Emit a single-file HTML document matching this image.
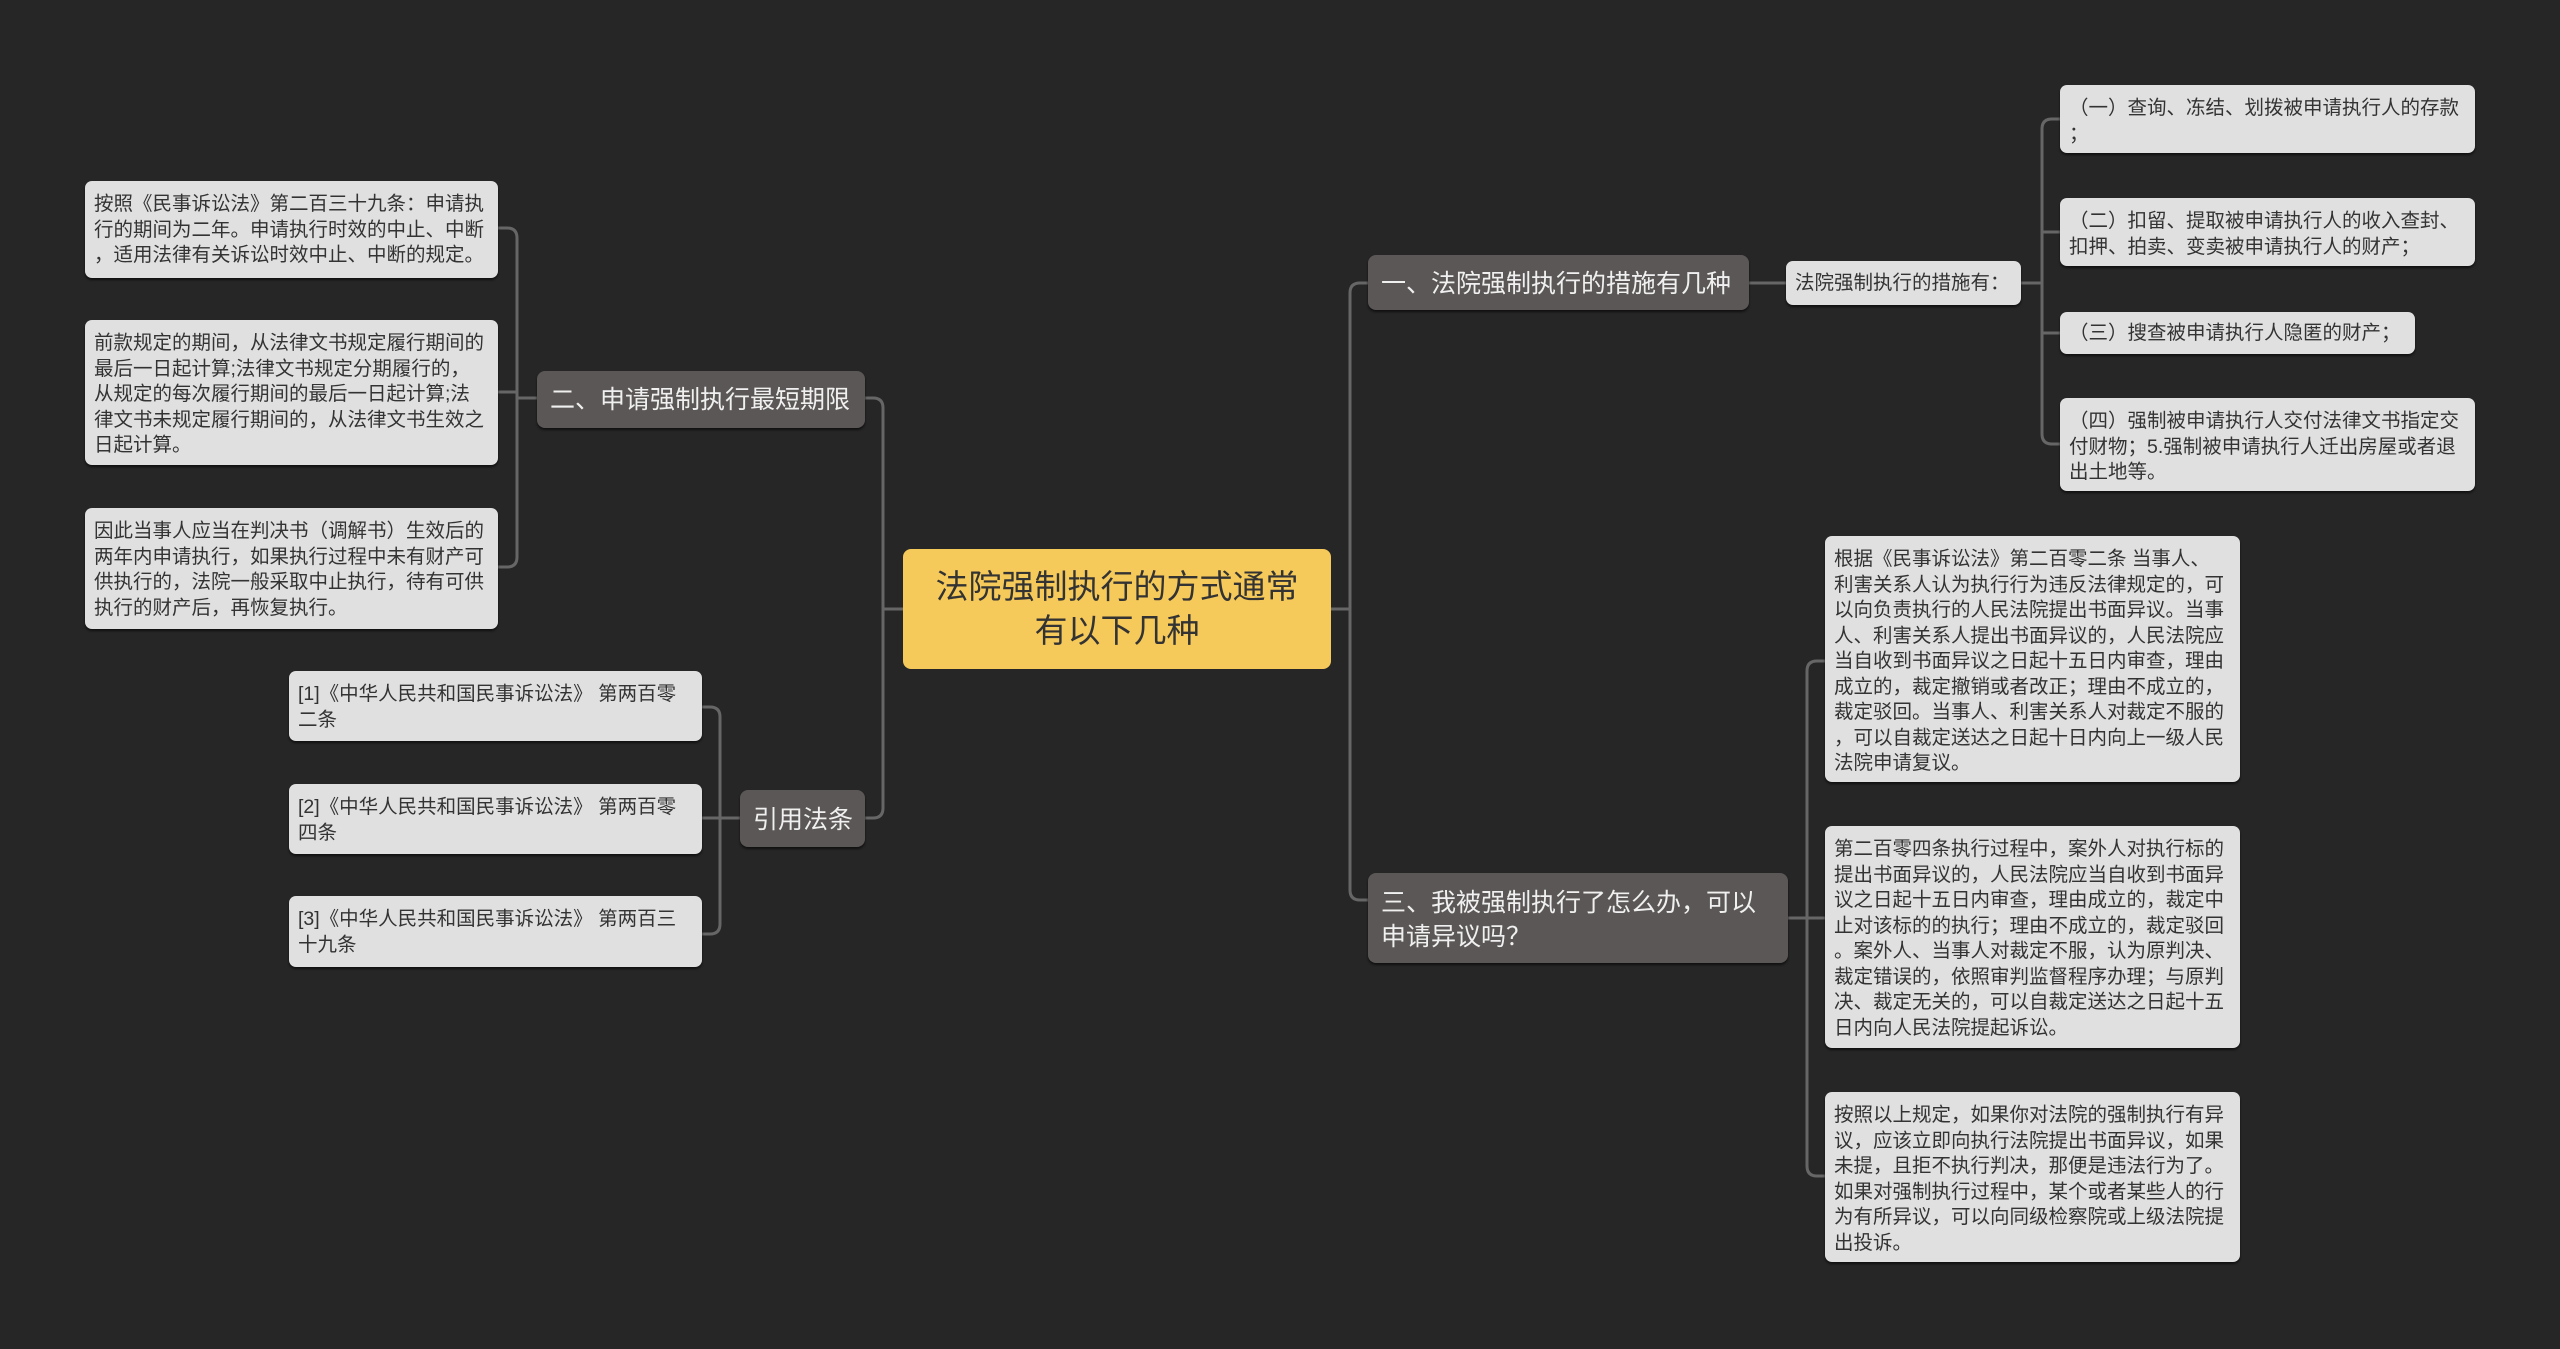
<!DOCTYPE html>
<html><head><meta charset="utf-8"><style>
body{margin:0;width:2560px;height:1349px;background:#262626;position:relative;overflow:hidden;font-family:"Liberation Sans","Noto Sans CJK SC",sans-serif}
.b{position:absolute;box-sizing:border-box;white-space:nowrap}
.l{background:#e0e0e0;color:#333;border-radius:7px;font-size:19.5px;line-height:25.5px;padding:11px 9px 7px;box-shadow:0 2px 2px #111}
.d{background:#5b5756;color:#f0f0f0;border-radius:8px;font-size:25px;line-height:34px;padding:10px 13px;box-shadow:0 2px 2px #111}
.c{background:#f5c95a;color:#333;border-radius:8px;font-size:33px;line-height:44px;text-align:center;padding:16px 0}
svg{position:absolute;left:0;top:0}
</style></head><body>
<svg width="2560" height="1349" fill="none" stroke="#666" stroke-width="3">
<path d="M865 398 H873 Q883 398 883 408 V808 Q883 818 873 818 H865"/>
<path d="M883 609 H1350"/>
<path d="M1368 283 H1360 Q1350 283 1350 293 V890 Q1350 900 1360 900 H1368"/>
<path d="M537 398 H517"/>
<path d="M498 228 H507 Q517 228 517 238 V557 Q517 567 507 567 H498"/>
<path d="M498 392 H517"/>
<path d="M740 818 H720"/>
<path d="M702 707 H710 Q720 707 720 717 V924 Q720 934 710 934 H702"/>
<path d="M702 818 H720"/>
<path d="M1749 283 H1786"/>
<path d="M2021 283 H2042"/>
<path d="M2060 119 H2052 Q2042 119 2042 129 V434 Q2042 444 2052 444 H2060"/>
<path d="M2042 232 H2060 M2042 333 H2060"/>
<path d="M1788 918 H1807"/>
<path d="M1825 661 H1817 Q1807 661 1807 671 V1166 Q1807 1176 1817 1176 H1825"/>
<path d="M1807 918 H1825"/>
</svg>

<div class="b l" style="left:85px;top:181px;width:413px;height:97px">按照《民事诉讼法》第二百三十九条：申请执<br>行的期间为二年。申请执行时效的中止、中断<br>，适用法律有关诉讼时效中止、中断的规定。</div>
<div class="b l" style="left:85px;top:320px;width:413px;height:145px">前款规定的期间，从法律文书规定履行期间的<br>最后一日起计算;法律文书规定分期履行的，<br>从规定的每次履行期间的最后一日起计算;法<br>律文书未规定履行期间的，从法律文书生效之<br>日起计算。</div>
<div class="b l" style="left:85px;top:508px;width:413px;height:121px">因此当事人应当在判决书（调解书）生效后的<br>两年内申请执行，如果执行过程中未有财产可<br>供执行的，法院一般采取中止执行，待有可供<br>执行的财产后，再恢复执行。</div>
<div class="b d" style="left:537px;top:371px;width:328px;height:57px;padding-top:12px">二、申请强制执行最短期限</div>

<div class="b l" style="left:289px;top:671px;width:413px;height:70px">[1]《中华人民共和国民事诉讼法》 第两百零<br>二条</div>
<div class="b l" style="left:289px;top:784px;width:413px;height:70px">[2]《中华人民共和国民事诉讼法》 第两百零<br>四条</div>
<div class="b l" style="left:289px;top:896px;width:413px;height:71px">[3]《中华人民共和国民事诉讼法》 第两百三<br>十九条</div>
<div class="b d" style="left:740px;top:790px;width:125px;height:57px;padding-top:13px">引用法条</div>

<div class="b c" style="left:903px;top:549px;width:428px;height:120px">法院强制执行的方式通常<br>有以下几种</div>

<div class="b d" style="left:1368px;top:255px;width:381px;height:55px;padding-top:12px">一、法院强制执行的措施有几种</div>
<div class="b l" style="left:1786px;top:261px;width:235px;height:44px;padding-top:10px">法院强制执行的措施有：</div>
<div class="b l" style="left:2060px;top:85px;width:415px;height:68px">（一）查询、冻结、划拨被申请执行人的存款<br>；</div>
<div class="b l" style="left:2060px;top:198px;width:415px;height:68px">（二）扣留、提取被申请执行人的收入查封、<br>扣押、拍卖、变卖被申请执行人的财产；</div>
<div class="b l" style="left:2060px;top:312px;width:355px;height:42px;padding-top:9px">（三）搜查被申请执行人隐匿的财产；</div>
<div class="b l" style="left:2060px;top:398px;width:415px;height:93px">（四）强制被申请执行人交付法律文书指定交<br>付财物；5.强制被申请执行人迁出房屋或者退<br>出土地等。</div>

<div class="b d" style="left:1368px;top:873px;width:420px;height:90px;padding-top:13px">三、我被强制执行了怎么办，可以<br>申请异议吗？</div>
<div class="b l" style="left:1825px;top:536px;width:415px;height:246px">根据《民事诉讼法》第二百零二条 当事人、<br>利害关系人认为执行行为违反法律规定的，可<br>以向负责执行的人民法院提出书面异议。当事<br>人、利害关系人提出书面异议的，人民法院应<br>当自收到书面异议之日起十五日内审查，理由<br>成立的，裁定撤销或者改正；理由不成立的，<br>裁定驳回。当事人、利害关系人对裁定不服的<br>，可以自裁定送达之日起十日内向上一级人民<br>法院申请复议。</div>
<div class="b l" style="left:1825px;top:826px;width:415px;height:222px">第二百零四条执行过程中，案外人对执行标的<br>提出书面异议的，人民法院应当自收到书面异<br>议之日起十五日内审查，理由成立的，裁定中<br>止对该标的的执行；理由不成立的，裁定驳回<br>。案外人、当事人对裁定不服，认为原判决、<br>裁定错误的，依照审判监督程序办理；与原判<br>决、裁定无关的，可以自裁定送达之日起十五<br>日内向人民法院提起诉讼。</div>
<div class="b l" style="left:1825px;top:1092px;width:415px;height:170px">按照以上规定，如果你对法院的强制执行有异<br>议，应该立即向执行法院提出书面异议，如果<br>未提，且拒不执行判决，那便是违法行为了。<br>如果对强制执行过程中，某个或者某些人的行<br>为有所异议，可以向同级检察院或上级法院提<br>出投诉。</div>
</body></html>
